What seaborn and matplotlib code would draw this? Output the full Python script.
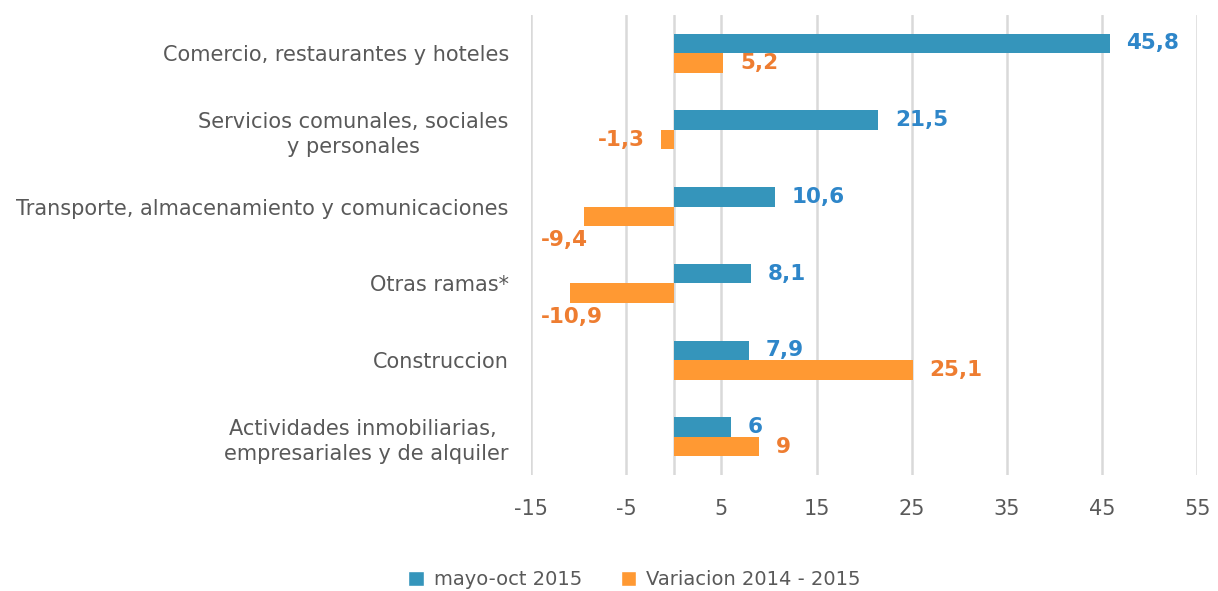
import pandas as pd
import seaborn as sns
import matplotlib.pyplot as plt
from matplotlib.patches import Patch

# data
categories = [
    "Comercio, restaurantes y hoteles",
    "Servicios comunales, sociales\ny personales",
    "Transporte, almacenamiento y comunicaciones",
    "Otras ramas*",
    "Construccion",
    "Actividades inmobiliarias, \nempresariales y de alquiler",
]
mayo_oct_2015 = [45.8, 21.5, 10.6, 8.1, 7.9, 6.0]
variacion_2014_2015 = [5.2, -1.3, -9.4, -10.9, 25.1, 9.0]
series_names = ["mayo-oct 2015", "Variacion 2014 - 2015"]
x_ticks = [-15, -5, 5, 15, 25, 35, 45, 55]

bar_colors = ["#3595BB", "#FF9933"]
label_colors = ["#2E86C9", "#EE7D31"]
text_gray = "#595959"

# long format for seaborn
df = pd.DataFrame({
    "categoria": categories * 2,
    "valor": mayo_oct_2015 + variacion_2014_2015,
    "serie": [series_names[0]] * len(categories) + [series_names[1]] * len(categories),
})

sns.set_theme(style="white")
plt.rcParams["font.family"] = ["DejaVu Sans"]

fig, ax = plt.subplots(figsize=(12.18, 5.91), dpi=100)
fig.subplots_adjust(left=0.436, right=0.983, top=0.975, bottom=0.196)

sns.barplot(data=df, y="categoria", x="valor", hue="serie", order=categories,
            hue_order=series_names, palette=bar_colors, width=0.51, orient="h",
            legend=False, ax=ax, saturation=1, linewidth=0)

ax.set_xlim(-15, 55)
ax.set_ylim(5.5, -0.5)
ax.set_xticks(x_ticks)
ax.set_xticklabels([str(t) for t in x_ticks])
ax.set_xlabel("")
ax.set_ylabel("")
ax.tick_params(axis="x", length=0, pad=17, labelsize=15, labelcolor=text_gray)
ax.tick_params(axis="y", length=0, pad=16, labelsize=15, labelcolor=text_gray)
for lbl in ax.get_yticklabels():
    lbl.set_multialignment("center")
    lbl.set_linespacing(1.35)

# vertical gridlines + zero line
for t in x_ticks:
    ax.axvline(t, color="#D9D9D9", lw=1.8, zorder=0)
ax.axvline(0, color="#D9D9D9", lw=1.8, zorder=0)
for s in ax.spines.values():
    s.set_visible(False)

# data labels
xmin = ax.get_xlim()[0]
for i, cont in enumerate(ax.containers):
    for bar in cont:
        val = bar.get_width()
        yc = bar.get_y() + bar.get_height() / 2
        txt = f"{val:g}".replace(".", ",")
        kw = dict(color=label_colors[i], fontsize=15.5, fontweight="bold",
                  textcoords="offset points", va="center")
        if val >= 0:
            ax.annotate(txt, (val, yc), xytext=(12, 0), ha="left", **kw)
        elif val > -5:
            ax.annotate(txt, (val, yc), xytext=(-12, 0), ha="right", **kw)
        else:
            # not enough room on the left, put it under the bar at the plot edge
            ax.annotate(txt, (xmin, yc), xytext=(7, -17), ha="left", **kw)

handles = [Patch(facecolor=c) for c in bar_colors]
fig.legend(handles, series_names, loc="lower center", bbox_to_anchor=(0.521, -0.027),
           ncol=2, frameon=False, fontsize=14, labelcolor=text_gray,
           handlelength=0.8, handleheight=0.8, handletextpad=0.5, columnspacing=2.0)

plt.savefig("out.png", dpi=100)
